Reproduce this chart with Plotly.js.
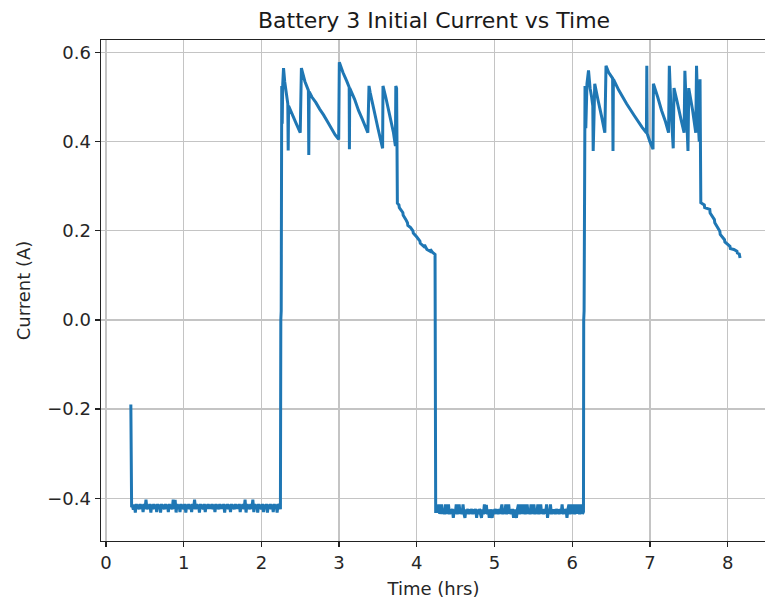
<!DOCTYPE html>
<html>
<head>
<meta charset="utf-8">
<script src="https://cdn.plot.ly/plotly-3.0.1.min.js"></script>
<style>
html,body{margin:0;padding:0;overflow:hidden;background:#fff;}
#chart{width:770px;height:604px;}
</style>
</head>
<body>
<div id="chart"></div>
<script>
// Discharge 1 (negative current)
var d1Time = [0.32,0.33,
0.34,0.3525,0.365,0.3775,0.39,0.4025,0.415,0.4275,
0.44,0.4525,0.465,0.4775,0.49,0.5025,0.515,0.5275,
0.54,0.5525,0.565,0.5775,0.59,0.6025,0.615,0.6275,
0.64,0.6525,0.665,0.6775,0.69,0.7025,0.715,0.7275,
0.74,0.7525,0.765,0.7775,0.79,0.8025,0.815,0.8275,
0.84,0.8525,0.865,0.8775,0.89,0.9025,0.915,0.9275,
0.94,0.9525,0.965,0.9775,0.99,1.0025,1.015,1.0275,
1.04,1.0525,1.065,1.0775,1.09,1.1025,1.115,1.1275,
1.14,1.1525,1.165,1.1775,1.19,1.2025,1.215,1.2275,
1.24,1.2525,1.265,1.2775,1.29,1.3025,1.315,1.3275,
1.34,1.3525,1.365,1.3775,1.39,1.4025,1.415,1.4275,
1.44,1.4525,1.465,1.4775,1.49,1.5025,1.515,1.5275,
1.54,1.5525,1.565,1.5775,1.59,1.6025,1.615,1.6275,
1.64,1.6525,1.665,1.6775,1.69,1.7025,1.715,1.7275,
1.74,1.7525,1.765,1.7775,1.79,1.8025,1.815,1.8275,
1.84,1.8525,1.865,1.8775,1.89,1.9025,1.915,1.9275,
1.94,1.9525,1.965,1.9775,1.99,2.0025,2.015,2.0275,
2.04,2.0525,2.065,2.0775,2.09,2.1025,2.115,2.1275,
2.14,2.1525,2.165,2.1775,2.19,2.2025,2.215,2.2275,
2.24];
var d1Current = [-0.19,-0.42,
-0.416,-0.426,-0.414,-0.432,-0.413,-0.424,-0.414,-0.425,
-0.413,-0.424,-0.414,-0.431,-0.413,-0.424,-0.403,-0.425,
-0.414,-0.424,-0.413,-0.432,-0.414,-0.425,-0.413,-0.424,
-0.414,-0.431,-0.413,-0.424,-0.414,-0.432,-0.413,-0.424,
-0.414,-0.425,-0.413,-0.424,-0.414,-0.431,-0.413,-0.424,
-0.414,-0.425,-0.403,-0.424,-0.404,-0.432,-0.413,-0.424,
-0.414,-0.431,-0.413,-0.424,-0.414,-0.425,-0.413,-0.432,
-0.414,-0.424,-0.413,-0.425,-0.414,-0.431,-0.413,-0.424,
-0.403,-0.425,-0.413,-0.424,-0.414,-0.432,-0.413,-0.424,
-0.414,-0.425,-0.413,-0.431,-0.414,-0.424,-0.413,-0.424,
-0.414,-0.424,-0.413,-0.425,-0.414,-0.431,-0.413,-0.424,
-0.414,-0.425,-0.413,-0.424,-0.414,-0.424,-0.413,-0.432,
-0.414,-0.424,-0.413,-0.425,-0.414,-0.431,-0.413,-0.424,
-0.414,-0.425,-0.413,-0.424,-0.414,-0.424,-0.413,-0.431,
-0.414,-0.424,-0.413,-0.425,-0.403,-0.432,-0.413,-0.424,
-0.414,-0.425,-0.413,-0.424,-0.403,-0.431,-0.413,-0.424,
-0.414,-0.432,-0.413,-0.424,-0.414,-0.425,-0.413,-0.431,
-0.414,-0.424,-0.413,-0.432,-0.414,-0.424,-0.413,-0.425,
-0.414,-0.431,-0.413,-0.424,-0.414,-0.432,-0.413,-0.424,
-0.412];

// Charge 1 (positive current) with taper
var c1Time = [2.245,2.25,2.255,2.262,2.268,2.275,2.285,2.30,2.32,2.34,
2.345,2.35,2.40,2.45,2.50,2.515,2.53,2.56,2.605,2.61,
2.615,2.65,2.70,2.75,2.80,2.85,2.90,2.95,2.995,3.003,
3.05,3.10,3.13,3.133,3.137,3.20,3.25,3.30,3.37,3.385,
3.40,3.45,3.50,3.56,3.565,3.60,3.65,3.70,3.725,3.73,
3.74,3.745,3.75,3.77,3.775,3.80,3.82,3.825,3.86,3.88,
3.885,3.92,3.95,3.955,4.00,4.04,4.045,4.09,4.10,4.13,
4.17,4.175,4.20,4.235,4.243];
var c1Current = [-0.425,0.0,0.02,0.525,0.44,0.53,0.565,0.535,0.51,0.485,
0.38,0.48,0.46,0.44,0.42,0.565,0.555,0.535,0.515,0.37,
0.512,0.50,0.488,0.473,0.46,0.445,0.43,0.415,0.405,0.578,
0.555,0.535,0.522,0.383,0.52,0.495,0.47,0.45,0.42,0.525,
0.51,0.47,0.43,0.385,0.525,0.50,0.46,0.42,0.39,0.525,
0.52,0.40,0.262,0.258,0.252,0.246,0.241,0.235,0.225,0.218,
0.212,0.207,0.20,0.195,0.186,0.177,0.172,0.165,0.168,0.158,
0.154,0.158,0.152,0.147,-0.43];

// Discharge 2 (negative current)
var d2Time = [
4.27,4.2825,4.295,4.3075,4.32,4.3325,4.345,4.3575,
4.37,4.3825,4.395,4.4075,4.42,4.4325,4.445,4.4575,
4.47,4.4825,4.495,4.5075,4.52,4.5325,4.545,4.5575,
4.57,4.5825,4.595,4.6075,4.62,4.6325,4.645,4.6575,
4.67,4.6825,4.695,4.7075,4.72,4.7325,4.745,4.7575,
4.77,4.7825,4.795,4.8075,4.82,4.8325,4.845,4.8575,
4.87,4.8825,4.895,4.9075,4.92,4.9325,4.945,4.9575,
4.97,4.9825,4.995,5.0075,5.02,5.0325,5.045,5.0575,
5.07,5.0825,5.095,5.1075,5.12,5.1325,5.145,5.1575,
5.17,5.1825,5.195,5.2075,5.22,5.2325,5.245,5.2575,
5.27,5.2825,5.295,5.3075,5.32,5.3325,5.345,5.3575,
5.37,5.3825,5.395,5.4075,5.42,5.4325,5.445,5.4575,
5.47,5.4825,5.495,5.5075,5.52,5.5325,5.545,5.5575,
5.57,5.5825,5.595,5.6075,5.62,5.6325,5.645,5.6575,
5.67,5.6825,5.695,5.7075,5.72,5.7325,5.745,5.7575,
5.77,5.7825,5.795,5.8075,5.82,5.8325,5.845,5.8575,
5.87,5.8825,5.895,5.9075,5.92,5.9325,5.945,5.9575,
5.97,5.9825,5.995,6.0075,6.02,6.0325,6.045,6.0575,
6.07,6.0825,6.095,6.1075,6.12,6.1325,6.145];
var d2Current = [
-0.430,-0.414,-0.435,-0.425,-0.414,-0.435,-0.425,-0.436,
-0.414,-0.435,-0.425,-0.414,-0.436,-0.425,-0.435,-0.424,
-0.444,-0.425,-0.435,-0.414,-0.436,-0.425,-0.414,-0.435,
-0.425,-0.436,-0.414,-0.435,-0.444,-0.425,-0.435,-0.424,
-0.436,-0.425,-0.435,-0.424,-0.436,-0.425,-0.435,-0.424,
-0.444,-0.425,-0.436,-0.424,-0.435,-0.444,-0.425,-0.436,
-0.414,-0.435,-0.415,-0.436,-0.425,-0.444,-0.425,-0.435,
-0.444,-0.425,-0.436,-0.424,-0.435,-0.425,-0.436,-0.424,
-0.435,-0.425,-0.414,-0.436,-0.425,-0.435,-0.414,-0.436,
-0.425,-0.414,-0.435,-0.425,-0.436,-0.424,-0.444,-0.425,
-0.435,-0.444,-0.425,-0.414,-0.436,-0.425,-0.414,-0.435,
-0.425,-0.414,-0.436,-0.425,-0.414,-0.435,-0.425,-0.436,
-0.414,-0.435,-0.425,-0.414,-0.436,-0.425,-0.435,-0.414,
-0.436,-0.425,-0.414,-0.435,-0.425,-0.436,-0.424,-0.435,
-0.414,-0.444,-0.425,-0.435,-0.414,-0.436,-0.425,-0.435,
-0.425,-0.436,-0.424,-0.435,-0.425,-0.436,-0.424,-0.435,
-0.414,-0.436,-0.425,-0.435,-0.424,-0.444,-0.425,-0.414,
-0.436,-0.414,-0.435,-0.425,-0.414,-0.436,-0.425,-0.414,
-0.435,-0.414,-0.436,-0.425,-0.414,-0.435,-0.430];

// Charge 2 (positive current) with taper
var c2Time = [6.148,6.153,6.165,6.175,6.19,6.21,6.23,6.25,6.265,6.27,
6.28,6.29,6.33,6.38,6.42,6.435,6.47,6.52,6.525,6.53,
6.60,6.70,6.80,6.90,6.955,6.96,6.965,7.00,7.04,7.045,
7.10,7.15,7.20,7.24,7.25,7.27,7.30,7.31,7.35,7.40,
7.44,7.45,7.47,7.49,7.50,7.55,7.59,7.60,7.62,7.635,
7.645,7.65,7.655,7.70,7.705,7.77,7.775,7.83,7.835,7.90,
7.905,7.96,7.965,8.03,8.035,8.08,8.12,8.125,8.15,8.16];
var c2Current = [0.0,0.02,0.525,0.43,0.53,0.56,0.52,0.50,0.48,0.379,
0.45,0.53,0.495,0.455,0.42,0.57,0.555,0.542,0.379,0.54,
0.515,0.485,0.458,0.432,0.42,0.57,0.418,0.40,0.383,0.53,
0.50,0.47,0.445,0.42,0.57,0.48,0.385,0.52,0.49,0.45,
0.42,0.559,0.47,0.379,0.52,0.47,0.42,0.57,0.45,0.40,
0.54,0.40,0.263,0.258,0.252,0.248,0.24,0.225,0.218,0.199,
0.192,0.18,0.175,0.165,0.16,0.158,0.154,0.15,0.148,0.139];

var xTickVals = [0,1,2,3,4,5,6,7,8];
var yTickVals = [-0.4,-0.2,0.0,0.2,0.4,0.6];

var time = d1Time.concat(c1Time, d2Time, c2Time);
var current = d1Current.concat(c1Current, d2Current, c2Current);

var trace = {
  x: time, y: current, type: 'scatter', mode: 'lines',
  line: {color: '#1f77b4', width: 3, simplify: false},
  hoverinfo: 'skip'
};

var font = {family: 'DejaVu Sans, sans-serif', size: 18, color: '#262626'};

var layout = {
  width: 770, height: 604,
  margin: {l: 101, r: 4, t: 40, b: 63},
  paper_bgcolor: '#fff', plot_bgcolor: '#fff',
  font: font,
  showlegend: false,
  title: {text: 'Battery 3 Initial Current vs Time', x: 0.5637, xanchor: 'center', y: 0.967, yanchor: 'middle',
          font: {family: 'DejaVu Sans, sans-serif', size: 22, color: '#1a1a1a'}},
  xaxis: {
    range: [-0.064, 8.494], tickvals: xTickVals, ticktext: xTickVals.map(String),
    showgrid: true, gridcolor: '#c4c4c4', gridwidth: 1.3,
    zeroline: false, showline: true, linecolor: '#222', linewidth: 1.4, mirror: true,
    ticks: 'outside', ticklen: 5, tickwidth: 1.4, tickcolor: '#222',
    tickfont: font,
    title: {text: 'Time (hrs)', font: font, standoff: 10}
  },
  yaxis: {
    range: [-0.496, 0.628], tickvals: yTickVals, tickformat: '.1f',
    showgrid: true, gridcolor: '#c4c4c4', gridwidth: 1.3,
    zeroline: false, showline: true, linecolor: '#222', linewidth: 1.4, mirror: true,
    ticks: 'outside', ticklen: 5, tickwidth: 1.4, tickcolor: '#222',
    tickfont: font,
    title: {text: 'Current (A)', font: font, standoff: 12}
  }
};

Plotly.newPlot('chart', [trace], layout, {staticPlot: true, displayModeBar: false});
</script>
</body>
</html>
